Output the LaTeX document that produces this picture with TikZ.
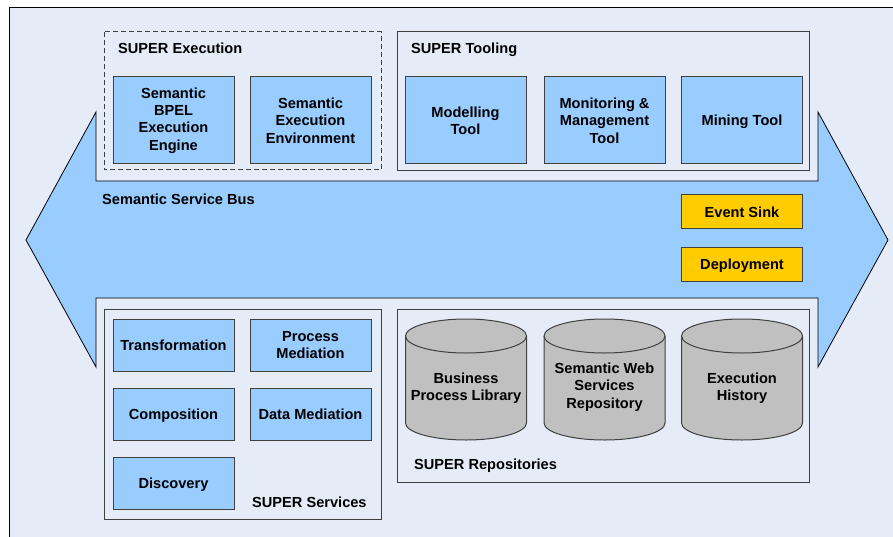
\documentclass[tikz,border=0pt]{standalone}
\usepackage{fontspec}
\setmainfont{Liberation Sans}
\definecolor{bgfill}{HTML}{E6ECF7}
\definecolor{busblue}{HTML}{99CCFF}
\definecolor{sinkyellow}{HTML}{FFCC00}
\definecolor{repogray}{HTML}{C0C0C0}
\definecolor{edgegray}{HTML}{404040}
\begin{document}
\begin{tikzpicture}[x=1pt,y=1pt,
  txt/.style={font=\fontsize{14.6}{17.3}\selectfont\bfseries},
  lbl/.style={txt, inner sep=0pt, anchor=base west},
  comp/.style={txt, draw=edgegray, line width=1pt, fill=busblue, minimum width=121pt,
    minimum height=87pt, align=center, inner sep=0pt},
  one/.style={text height=10.5pt, text depth=0pt},
  svc/.style={comp, minimum height=52pt},
  sink/.style={comp, fill=sinkyellow, minimum height=34pt},
  group/.style={draw=edgegray, line width=1pt, fill=bgfill},
  repo/.style={draw=edgegray, line width=1pt, fill=repogray}
]
\useasboundingbox (0,0) rectangle (893,-537);

% frame of the whole architecture
\draw[line width=1pt, fill=bgfill] (9.5,-8) rectangle (910,-560);

% semantic service bus: double arrow with notches for the upper and lower layers
\draw[line width=0.8pt, fill=busblue, line join=miter]
  (26,-240) -- (96,-112) -- (96,-181) -- (818,-181) -- (818,-112) -- (888,-240)
  -- (818,-367) -- (818,-298) -- (96,-298) -- (96,-367) -- cycle;
\node[lbl] (busl) at (102,-205) {Semantic Service Bus};

% upper layer
\draw[line width=1pt, draw=edgegray, dash pattern=on 5pt off 3pt] (104,-32) rectangle (381,-170);
\node[lbl] (execl) at (118,-54) {SUPER Execution};
\node[comp] (bpel) at (173.5,-120.5) {Semantic\\BPEL\\Execution\\Engine};
\node[comp] (see) at (310.5,-120.5) {Semantic\\Execution\\Environment};

\draw[group] (397,-32) rectangle (809,-171);
\node[lbl] (tooll) at (411,-54) {SUPER Tooling};
\node[comp] (model) at (465.5,-120.5) {Modelling\\Tool};
\node[comp] (monit) at (604.5,-120.5) {Monitoring \&\\Management\\Tool};
\node[comp, one] (mining) at (742,-120.5) {Mining Tool};

% bus components
\node[sink, one] (sinkbox) at (742,-212) {Event Sink};
\node[sink, one] (deploy) at (742,-264) {Deployment};

% lower layer: services
\draw[group] (104,-309) rectangle (381,-519);
\node[svc, one] (transf) at (173.5,-345) {Transformation};
\node[svc] (procm) at (310.5,-345) {Process\\Mediation};
\node[svc, one] (compo) at (173.5,-414) {Composition};
\node[svc, one] (datam) at (310.5,-414) {Data Mediation};
\node[svc, one] (disc) at (173.5,-483) {Discovery};
\node[lbl] (servl) at (252,-507) {SUPER Services};

% lower layer: repositories
\draw[group] (397,-309) rectangle (809,-482);
\foreach \cx/\nm in {466/bpl, 604.5/sws, 742/hist} {
  \draw[repo] (\cx-60.5,-336) -- (\cx-60.5,-423)
    arc[start angle=180, end angle=360, x radius=60.5, y radius=17]
    -- (\cx+60.5,-336)
    arc[start angle=0, end angle=180, x radius=60.5, y radius=17] -- cycle;
  \draw[draw=edgegray, line width=1pt] (\cx-60.5,-336)
    arc[start angle=180, end angle=360, x radius=60.5, y radius=17];
}
\node[txt, align=center] (bpltxt) at (466,-388) {Business\\Process Library};
\node[txt, align=center] (swstxt) at (604.5,-387) {Semantic Web\\Services\\Repository};
\node[txt, align=center] (histtxt) at (742,-388) {Execution\\History};
\node[lbl] (repol) at (414,-469) {SUPER Repositories};
\end{tikzpicture}
\end{document}
